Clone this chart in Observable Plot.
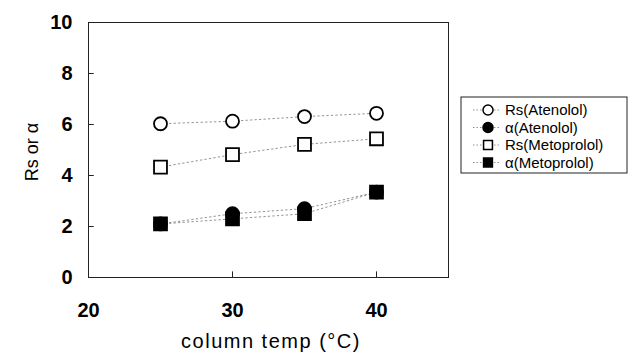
<!DOCTYPE html>
<html><head><meta charset="utf-8">
<script src="https://cdn.jsdelivr.net/npm/d3@7"></script>
<script src="https://cdn.jsdelivr.net/npm/@observablehq/plot@0.6"></script>
<style>body{margin:0;background:#fff;} #chart{position:relative;width:639px;height:353px;}</style>
</head><body><div id="chart"></div>
<script>
const temps = [25, 30, 35, 40];
const seriesNames = ["Rs(Atenolol)", "α(Atenolol)", "Rs(Metoprolol)", "α(Metoprolol)"];
const rsAtenolol = [6.03, 6.13, 6.31, 6.44];
const alphaAtenolol = [2.1, 2.5, 2.7, 3.35];
const rsMetoprolol = [4.33, 4.82, 5.22, 5.44];
const alphaMetoprolol = [2.1, 2.3, 2.5, 3.35];
const xTicks = [20, 30, 40];
const yTicks = [0, 2, 4, 6, 8, 10];

const styles = {
  "Rs(Atenolol)": {symbol: "circle", fill: "white", r: 6.5},
  "α(Atenolol)": {symbol: "circle", fill: "black", r: 6.5},
  "Rs(Metoprolol)": {symbol: "square", fill: "white", r: 7.3},
  "α(Metoprolol)": {symbol: "square", fill: "black", r: 7.3}
};
const values = [rsAtenolol, alphaAtenolol, rsMetoprolol, alphaMetoprolol];
const data = [];
seriesNames.forEach((s, i) => temps.forEach((t, j) => data.push({series: s, temp: t, v: values[i][j]})));

const font = "'Liberation Sans', Arial, sans-serif";
const marks = [
  Plot.frame({stroke: "#222", strokeWidth: 1}),
  Plot.ruleY(yTicks.slice(1, -1), {x1: 20, x2: 20.4, stroke: "#222"}),
  Plot.ruleX(xTicks.slice(1), {y1: 0, y2: 0.22, stroke: "#222"}),
  Plot.axisX(xTicks, {tickSize: 0, tickPadding: 25, fontSize: 20, fontWeight: "bold", label: null}),
  Plot.axisY(yTicks, {tickSize: 0, tickPadding: 16, fontSize: 20, fontWeight: "bold", label: null}),
  Plot.line(data, {x: "temp", y: "v", z: "series", stroke: "#777", strokeWidth: 0.8, strokeDasharray: "1.5,3"})
];
for (const s of seriesNames) {
  const st = styles[s];
  marks.push(Plot.dot(data.filter(d => d.series === s), {x: "temp", y: "v", symbol: () => st.symbol, r: st.r, fill: st.fill, stroke: "black", strokeWidth: 1.8}));
}
const chart = Plot.plot({
  width: 639, height: 353,
  marginLeft: 88, marginRight: 191, marginTop: 22, marginBottom: 76,
  style: {fontFamily: font, background: "white", color: "black"},
  x: {domain: [20, 45]},
  y: {domain: [0, 10]},
  symbol: {type: "identity"},
  marks
});
document.getElementById("chart").appendChild(chart);

const svg = d3.select(chart);
svg.append("text").attr("x", 271).attr("y", 348).attr("text-anchor", "middle")
  .attr("font-size", 20).attr("letter-spacing", 1.5).attr("font-family", font).text("column temp (°C)");
svg.append("text").attr("transform", "translate(38,152) rotate(-90)").attr("text-anchor", "middle")
  .attr("font-size", 18).attr("font-family", font).text("Rs or α");

// legend
const lg = svg.append("g").attr("transform", "translate(461,97)");
lg.append("rect").attr("width", 166).attr("height", 76).attr("fill", "white").attr("stroke", "#222");
seriesNames.forEach((s, i) => {
  const y = 13 + i * 17.5;
  const st = styles[s];
  lg.append("line").attr("x1", 12).attr("x2", 40).attr("y1", y).attr("y2", y).attr("stroke", "#777").attr("stroke-width", 0.8).attr("stroke-dasharray", "1.5,2");
  const sym = d3.symbol(st.symbol === "circle" ? d3.symbolCircle : d3.symbolSquare, Math.PI * 5 * 5);
  lg.append("path").attr("d", sym()).attr("transform", `translate(27,${y})`).attr("fill", st.fill).attr("stroke", "black").attr("stroke-width", 1.5);
  lg.append("text").attr("x", 44).attr("y", y).attr("dy", "0.36em").attr("text-anchor", "start")
    .attr("font-size", 15).attr("font-family", font).text(s);
});
</script></body></html>
